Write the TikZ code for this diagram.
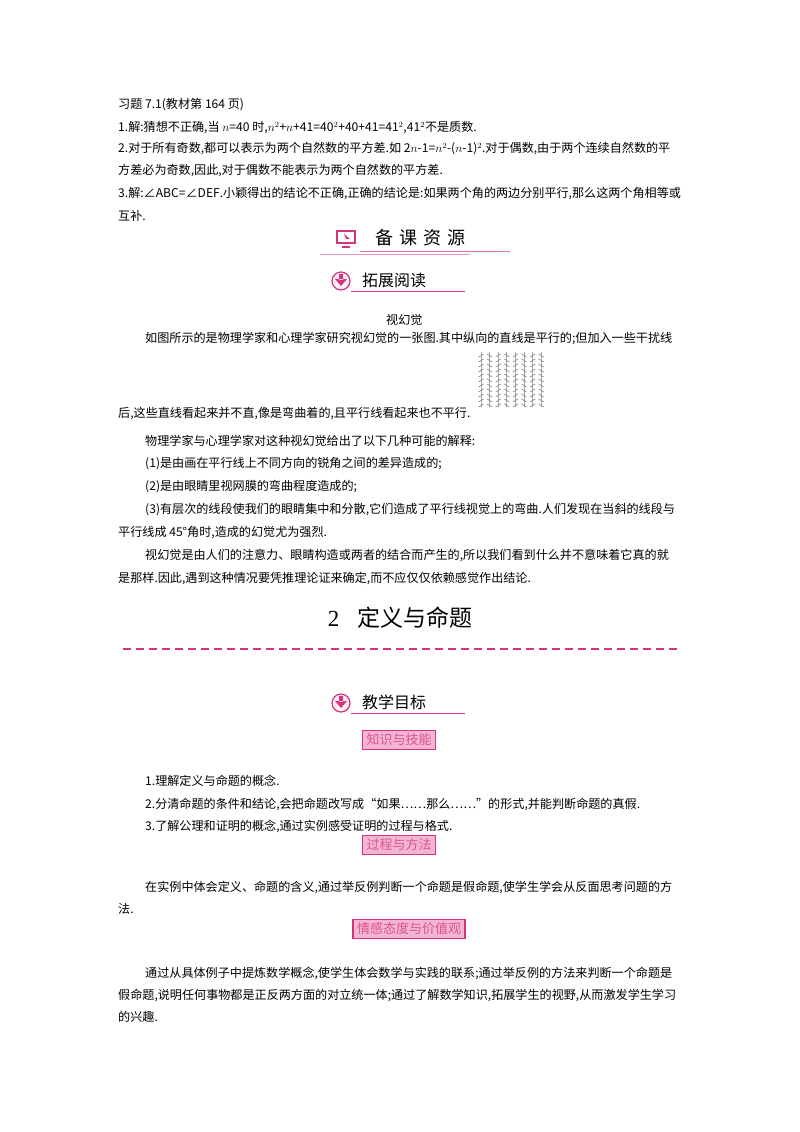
\documentclass[tikz,border=0pt]{standalone}
\usepackage{fontspec}
\setmainfont{Noto Sans CJK SC}
\newfontfamily\hd{Noto Sans CJK SC}
\definecolor{pk}{HTML}{D6337F}
\definecolor{pkl}{HTML}{F3B6D2}
\tikzset{
 tx/.style={anchor=west,inner sep=0pt,font=\fontsize{12.1}{13}\selectfont},
 tag/.style={draw=pk,line width=1.2pt,fill=pkl,inner xsep=4pt,minimum height=19pt,font=\fontsize{13}{14}\selectfont\color{white!15!pk}},
 hdr/.style={anchor=west,inner sep=0pt,font=\fontsize{16}{18}\selectfont},
}
\begin{document}
\begin{tikzpicture}[x=1pt,y=-1pt]
\useasboundingbox[fill=white] (0,0) rectangle (800,1132);
\node[tx] (l1) at (118,105) {习题 7.1(教材第 164 页)};
\node[tx] (l2) at (118,128) {1.解:猜想不正确,当 $n$=40 时,$n^2$+$n$+41=40$^2$+40+41=41$^2$,41$^2$不是质数.};
\node[tx] (l3) at (118,149) {2.对于所有奇数,都可以表示为两个自然数的平方差.如 2$n$-1=$n^2$-($n$-1)$^2$.对于偶数,由于两个连续自然数的平};
\node[tx] (l4) at (118,171) {方差必为奇数,因此,对于偶数不能表示为两个自然数的平方差.};
\node[tx] (l5) at (118,194) {3.解:∠$\mathit{ABC}$=∠$\mathit{DEF}$.小颖得出的结论不正确,正确的结论是:如果两个角的两边分别平行,那么这两个角相等或};
\node[tx] (l6) at (118,216) {互补.};
% header 1
\draw[pk,line width=2pt,fill=white] (337,231) rectangle (355,243);
\draw[pk,line width=2pt] (342,247)--(350,247);
\fill[pk] (344,234)--(350,239)--(346,239)--cycle;
\node[hdr,font=\fontsize{18}{20}\selectfont] (h1) at (375,238) {备\hspace{6pt}课\hspace{6pt}资\hspace{6pt}源};
\draw[pk!70] (360,251)--(510,251);
\draw[pk!50] (320,254)--(470,254);
% header 2
\draw[pk,line width=1.2pt,fill=pk!8] (341,281) circle (9);
\fill[pk] (339,274) rectangle (343,280) (335,279)--(347,279)--(341,286)--cycle;
\node[hdr] (h2) at (362,280) {拓展阅读};
\draw[pk] (351,291)--(465,291);
\node[tx] (t1) at (386,320) {视幻觉};
\node[tx] (p1) at (145,339) {如图所示的是物理学家和心理学家研究视幻觉的一张图.其中纵向的直线是平行的;但加入一些干扰线};
\foreach \i in {0,...,7}{
  \pgfmathsetmacro\xx{481+8.6*\i}
  \draw[gray!70,line width=0.7pt] (\xx,352)--(\xx,407);
  \foreach \j in {0,...,10}{
    \pgfmathsetmacro\yy{354+5*\j}
    \ifodd\i \draw[gray,line width=0.6pt] (\xx-2.5,\yy)--(\xx+2.5,\yy+3);
    \else \draw[gray,line width=0.6pt] (\xx-2.5,\yy+3)--(\xx+2.5,\yy); \fi
  }
}
\node[tx] (p2) at (118,413) {后,这些直线看起来并不直,像是弯曲着的,且平行线看起来也不平行.};
\node[tx] (p3) at (145,441) {物理学家与心理学家对这种视幻觉给出了以下几种可能的解释:};
\node[tx] (p4) at (145,464) {(1)是由画在平行线上不同方向的锐角之间的差异造成的;};
\node[tx] (p5) at (145,487) {(2)是由眼睛里视网膜的弯曲程度造成的;};
\node[tx] (p6) at (145,510) {(3)有层次的线段使我们的眼睛集中和分散,它们造成了平行线视觉上的弯曲.人们发现在当斜的线段与};
\node[tx] (p7) at (118,533) {平行线成 45°角时,造成的幻觉尤为强烈.};
\node[tx] (p8) at (145,556) {视幻觉是由人们的注意力、眼睛构造或两者的结合而产生的,所以我们看到什么并不意味着它真的就};
\node[tx] (p9) at (118,579) {是那样.因此,遇到这种情况要凭推理论证来确定,而不应仅仅依赖感觉作出结论.};
\node[anchor=center,inner sep=0pt,font=\fontsize{23}{26}\selectfont] (title) at (400,618) {\fontspec{Liberation Serif}2\hspace{18pt}\hd 定义与命题};
\draw[pk,line width=1.3pt,dash pattern=on 8pt off 5pt] (123,649)--(678,649);
% header 3
\draw[pk,line width=1.2pt,fill=pk!8] (341,703) circle (9);
\fill[pk] (339,696) rectangle (343,702) (335,701)--(347,701)--(341,708)--cycle;
\node[hdr] (h3) at (362,702) {教学目标};
\draw[pk] (351,713)--(465,713);
\node[tag] (g1) at (399,740) {知识与技能};
\node[tx] (k1) at (145,781) {1.理解定义与命题的概念.};
\node[tx] (k2) at (145,804) {2.分清命题的条件和结论,会把命题改写成“如果……那么……”的形式,并能判断命题的真假.};
\node[tx] (k3) at (145,826) {3.了解公理和证明的概念,通过实例感受证明的过程与格式.};
\node[tag] (g2) at (399,845) {过程与方法};
\node[tx] (m1) at (145,887) {在实例中体会定义、命题的含义,通过举反例判断一个命题是假命题,使学生学会从反面思考问题的方};
\node[tx] (m2) at (118,909) {法.};
\node[tag] (g3) at (409,929) {情感态度与价值观};
\node[tx] (e1) at (145,973) {通过从具体例子中提炼数学概念,使学生体会数学与实践的联系;通过举反例的方法来判断一个命题是};
\node[tx] (e2) at (118,995) {假命题,说明任何事物都是正反两方面的对立统一体;通过了解数学知识,拓展学生的视野,从而激发学生学习};
\node[tx] (e3) at (118,1017) {的兴趣.};
\end{tikzpicture}
\end{document}
